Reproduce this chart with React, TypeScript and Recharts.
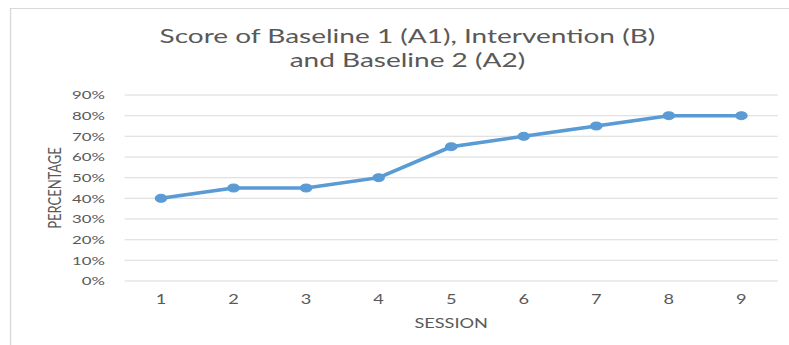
import React from 'react';
import { LineChart, Line, XAxis, YAxis, CartesianGrid, Label } from 'recharts';

const sessions = ['1', '2', '3', '4', '5', '6', '7', '8', '9'];
const scores = [40, 45, 45, 50, 65, 70, 75, 80, 80];
const yTicks = [0, 10, 20, 30, 40, 50, 60, 70, 80, 90];
const titleLines = ['Score of Baseline 1 (A1), Intervention (B)', 'and Baseline 2 (A2)'];

const data = sessions.map((s, i) => ({ session: s, score: scores[i] }));

const FONT = 'Lato, "Open Sans", sans-serif';
const GRAY = '#595959';
const SX = 1.4;
const W = 789 / SX;

export default function App() {
  return (
    <div style={{ position: 'absolute', left: 0, top: 0, width: 789, height: 345, background: '#fff', fontFamily: FONT, overflow: 'hidden' }}>
      <div style={{ position: 'absolute', left: 0, top: 0, width: W, height: 345, transform: `scaleX(${SX})`, transformOrigin: '0 0' }}>
        <div style={{ position: 'absolute', left: 7, top: 8, width: 800, height: 336, borderLeft: '1px solid #D9D9D9', borderTop: '1px solid #D9D9D9' }} />
        <div style={{ position: 'absolute', left: 291 - 300, top: 23, width: 600, textAlign: 'center', color: GRAY, fontSize: 20, lineHeight: '24px', whiteSpace: 'nowrap' }}>
          {titleLines.map((t) => (
            <div key={t}>{t}</div>
          ))}
        </div>
        <div style={{ position: 'absolute', left: 0, top: 0 }}>
          <LineChart width={W} height={345} data={data} margin={{ top: 95, right: 8, bottom: 34, left: 0 }}>
            <CartesianGrid vertical={false} stroke="#D9D9D9" strokeWidth={1} />
            <XAxis
              dataKey="session"
              axisLine={false}
              tickLine={false}
              tickMargin={8}
              height={30}
              padding={{ left: 26, right: 26 }}
              tick={{ fill: GRAY, fontSize: 13, fontFamily: FONT }}
            >
              <Label value="SESSION" position="insideBottom" offset={-17} fill={GRAY} fontSize={13} fontFamily={FONT} />
            </XAxis>
            <YAxis
              domain={[0, 90]}
              ticks={yTicks}
              interval={0}
              width={89}
              axisLine={false}
              tickLine={false}
              tickMargin={8}
              tickFormatter={(v: number) => `${v}%`}
              tick={{ fill: GRAY, fontSize: 12, fontFamily: FONT }}
            >
              <Label value="PERCENTAGE" angle={-90} position="insideLeft" offset={39} fill={GRAY} fontSize={13} fontFamily={FONT} style={{ textAnchor: 'middle' }} />
            </YAxis>
            <Line
              type="linear"
              dataKey="score"
              stroke="#5B9BD5"
              strokeWidth={3.5}
              dot={{ r: 4, fill: '#5B9BD5', stroke: '#5B9BD5', strokeWidth: 1 }}
              isAnimationActive={false}
            />
          </LineChart>
        </div>
      </div>
    </div>
  );
}
